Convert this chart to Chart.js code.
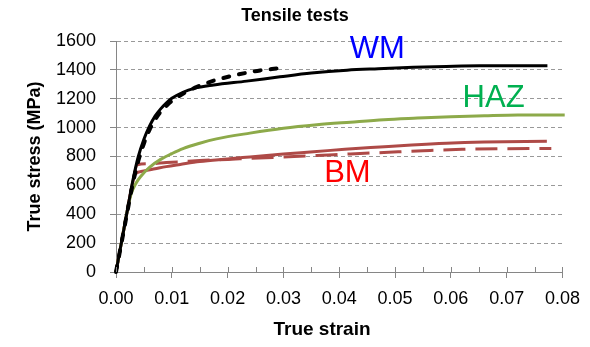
<!DOCTYPE html>
<html>
<head>
<meta charset="utf-8">
<script src="https://cdn.jsdelivr.net/npm/chart.js@4"></script>
<style>
  html, body { margin: 0; padding: 0; background: #fff; }
</style>
</head>
<body>
<canvas id="chart" width="590" height="347"></canvas>
<script>
const FONT = '"Liberation Sans", Arial, sans-serif';

// tick values
const xTicks = [0, 0.01, 0.02, 0.03, 0.04, 0.05, 0.06, 0.07, 0.08];
const xMinorTicks = [0.005, 0.015, 0.025, 0.035, 0.045, 0.055, 0.065, 0.075];
const yTicks = [0, 200, 400, 600, 800, 1000, 1200, 1400, 1600];

// WM (weld metal) - solid and dashed
const wmStrain = [0, 0.001, 0.002, 0.003, 0.004, 0.005, 0.006, 0.007, 0.008, 0.009, 0.010, 0.012, 0.014, 0.0175, 0.0234, 0.0294, 0.035, 0.0414, 0.047, 0.0533, 0.0592, 0.0652, 0.0712, 0.0773];
const wmStress = [0, 210, 420, 630, 800, 920, 1010, 1080, 1130, 1170, 1203, 1245, 1272, 1295, 1322, 1352, 1378, 1398, 1408, 1418, 1424, 1428, 1428, 1428];
const wmDashStrain = [0, 0.001, 0.002, 0.003, 0.004, 0.005, 0.006, 0.007, 0.008, 0.009, 0.010, 0.012, 0.0145, 0.0175, 0.0205, 0.0234, 0.0258, 0.0290];
const wmDashStress = [0, 205, 410, 610, 770, 890, 985, 1055, 1110, 1150, 1185, 1235, 1282, 1325, 1356, 1380, 1396, 1410];

// HAZ
const hazStrain = [0, 0.001, 0.002, 0.0027, 0.0035, 0.0045, 0.006, 0.008, 0.010, 0.012, 0.015, 0.018, 0.024, 0.030, 0.036, 0.042, 0.048, 0.054, 0.060, 0.066, 0.072, 0.0804];
const hazStress = [0, 210, 420, 540, 610, 665, 725, 780, 820, 855, 892, 922, 962, 996, 1020, 1038, 1055, 1066, 1076, 1082, 1087, 1088];

// BM (base metal) - solid and dashed
const bmStrain = [0, 0.001, 0.002, 0.003, 0.0035, 0.005, 0.007, 0.009, 0.0115, 0.015, 0.020, 0.024, 0.030, 0.0354, 0.041, 0.0473, 0.053, 0.0592, 0.066, 0.0772];
const bmStress = [0, 210, 420, 620, 680, 700, 715, 730, 745, 765, 783, 797, 818, 833, 850, 866, 880, 892, 900, 906];
const bmDashStrain = [0, 0.001, 0.002, 0.003, 0.0038, 0.006, 0.009, 0.012, 0.015, 0.020, 0.024, 0.030, 0.036, 0.042, 0.048, 0.055, 0.062, 0.070, 0.078];
const bmDashStress = [0, 210, 420, 620, 742, 750, 758, 765, 772, 780, 787, 797, 807, 818, 828, 840, 850, 854, 855];

const AXIS_COLOR = '#868686';
const GRID_COLOR = '#999999';
const RED = '#AE4A47';
const GREEN = '#8DAA4A';

function pts(xs, ys) {
  return xs.map((x, i) => ({ x: x, y: ys[i] }));
}

// text labels placed in data units
const curveLabels = [
  { text: 'WM', x: 0.0419, y: 1480, color: '#0000FF' },
  { text: 'HAZ', x: 0.0621, y: 1146, color: '#00B050' },
  { text: 'BM', x: 0.0373, y: 620, color: '#FF0000' }
];

const decorPlugin = {
  id: 'decor',
  afterDraw(chart) {
    const ctx = chart.ctx;
    const xs = chart.scales.x;
    const ys = chart.scales.y;
    const area = chart.chartArea;
    const bottom = Math.round(area.bottom);
    ctx.save();
    // inner part of the x ticks + minor ticks
    ctx.strokeStyle = AXIS_COLOR;
    ctx.lineWidth = 1;
    ctx.beginPath();
    xTicks.concat(xMinorTicks).forEach(v => {
      const px = Math.round(xs.getPixelForValue(v)) + 0.5;
      ctx.moveTo(px, bottom - 5);
      ctx.lineTo(px, bottom);
    });
    ctx.stroke();

    // x axis title (sits a bit left of the plot centre in the original)
    ctx.fillStyle = '#000';
    ctx.font = 'bold 19px ' + FONT;
    ctx.textAlign = 'center';
    ctx.textBaseline = 'middle';
    ctx.fillText('True strain', area.left + 206, chart.height - 17);

    ctx.font = '31px ' + FONT;
    ctx.textAlign = 'left';
    ctx.textBaseline = 'alphabetic';
    curveLabels.forEach(l => {
      ctx.fillStyle = l.color;
      ctx.fillText(l.text, xs.getPixelForValue(l.x), ys.getPixelForValue(l.y));
    });
    ctx.restore();
  }
};

const common = { pointRadius: 0, fill: false, cubicInterpolationMode: 'monotone', clip: false };

new Chart(document.getElementById('chart'), {
  type: 'line',
  data: {
    datasets: [
      Object.assign({ data: pts(wmDashStrain, wmDashStress), borderColor: '#000', borderWidth: 4, borderDash: [6, 10], borderCapStyle: 'round' }, common),
      Object.assign({ data: pts(wmStrain, wmStress), borderColor: '#000', borderWidth: 3 }, common),
      Object.assign({ data: pts(hazStrain, hazStress), borderColor: GREEN, borderWidth: 3 }, common),
      Object.assign({ data: pts(bmStrain, bmStress), borderColor: RED, borderWidth: 3 }, common),
      Object.assign({ data: pts(bmDashStrain, bmDashStress), borderColor: RED, borderWidth: 3, borderDash: [22, 10] }, common)
    ]
  },
  options: {
    responsive: false,
    animation: false,
    layout: { padding: 0 },
    plugins: {
      legend: { display: false },
      tooltip: { enabled: false },
      title: {
        display: true,
        text: 'Tensile tests',
        color: '#000',
        font: { family: FONT, size: 18, weight: 'bold' },
        padding: { top: 5, bottom: 14.4 }
      }
    },
    scales: {
      x: {
        type: 'linear',
        min: 0,
        max: 0.08,
        afterFit(s) { s.height = 75; },
        afterBuildTicks(s) { s.ticks = xTicks.map(v => ({ value: v })); },
        ticks: {
          color: '#000',
          font: { family: FONT, size: 18 },
          padding: 10,
          maxRotation: 0,
          callback: v => Number(v).toFixed(2)
        },
        grid: { drawOnChartArea: false, drawTicks: true, tickLength: 6, color: AXIS_COLOR },
        border: { color: AXIS_COLOR }
      },
      y: {
        min: 0,
        max: 1600,
        afterFit(s) { s.width = 116; },
        afterBuildTicks(s) { s.ticks = yTicks.map(v => ({ value: v })); },
        ticks: {
          color: '#000',
          font: { family: FONT, size: 18 },
          padding: 14,
          callback: v => String(v)
        },
        grid: { color: GRID_COLOR, tickColor: AXIS_COLOR, tickLength: 6, tickBorderDash: [] },
        border: { color: AXIS_COLOR, dash: [4, 3] },
        title: {
          display: true,
          text: 'True stress (MPa)',
          color: '#000',
          font: { family: FONT, size: 18, weight: 'bold' },
          padding: { top: 24, bottom: 0 }
        }
      },
      // empty spacer on the right so the plot ends at 0.08 while the title stays centred
      spacer: {
        position: 'right',
        display: true,
        afterFit(s) { s.width = 27; },
        ticks: { display: false },
        grid: { display: false, drawTicks: false },
        border: { display: false }
      }
    }
  },
  plugins: [decorPlugin]
});
</script>
</body>
</html>
